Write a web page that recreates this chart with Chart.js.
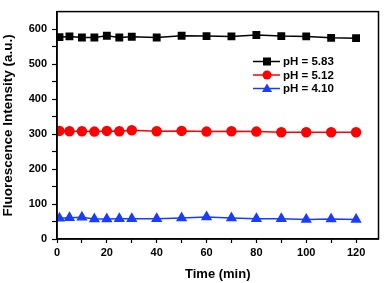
<!DOCTYPE html>
<html>
<head>
<meta charset="utf-8">
<script src="https://cdn.jsdelivr.net/npm/chart.js@4"></script>
<style>
  html, body { margin: 0; padding: 0; background: #fff; }
  #wrap { width: 385px; height: 283px; }
</style>
</head>
<body>
<div id="wrap"><canvas id="chart" width="385" height="283"></canvas></div>
<script>
const times = [1, 5, 10, 15, 20, 25, 30, 40, 50, 60, 70, 80, 90, 100, 110, 120];
const ph583 = [577, 579, 576, 576, 581, 576, 578, 576, 581, 580, 579, 583, 580, 579, 575, 574];
const ph512 = [309, 308, 308, 307, 309, 308, 311, 308, 309, 307, 308, 307, 305, 305, 305, 305];
const ph410 = [59, 61, 62, 57, 57, 58, 58, 58, 60, 63, 60, 58, 58, 56, 57, 56];
const seriesLabels = ["pH = 5.83", "pH = 5.12", "pH = 4.10"];
// major ticks carry labels, minor ones in between
const xTicks = [0, 10, 20, 30, 40, 50, 60, 70, 80, 90, 100, 110, 120];
const yTicks = [0, 50, 100, 150, 200, 250, 300, 350, 400, 450, 500, 550, 600];

const toPoints = (vals) => vals.map((v, i) => ({ x: times[i], y: v }));

const framePlugin = {
  id: "frame",
  afterDatasetsDraw(chart) {
    const { ctx, chartArea: a } = chart;
    ctx.save();
    ctx.strokeStyle = "#000";
    ctx.lineWidth = 1.5;
    ctx.strokeRect(a.left, a.top, a.right - a.left, a.bottom - a.top);
    ctx.restore();
  }
};

// legend drawn inside the plot, upper right
const legendPlugin = {
  id: "insideLegend",
  afterDraw(chart) {
    const { ctx } = chart;
    const x0 = 253, y0 = 61.5, rowH = 13.5;
    ctx.save();
    chart.data.datasets.forEach((ds, i) => {
      const y = y0 + i * rowH;
      ctx.strokeStyle = ds.borderColor;
      ctx.lineWidth = 1.5;
      ctx.beginPath();
      ctx.moveTo(x0, y);
      ctx.lineTo(x0 + 27, y);
      ctx.stroke();
      ctx.fillStyle = ds.backgroundColor;
      const cx = x0 + 14;
      if (ds.pointStyle === "rect") {
        ctx.fillRect(cx - 4, y - 4, 8, 8);
      } else if (ds.pointStyle === "circle") {
        ctx.beginPath();
        ctx.arc(cx, y, 4.5, 0, Math.PI * 2);
        ctx.fill();
      } else {
        ctx.beginPath();
        ctx.moveTo(cx, y - 5);
        ctx.lineTo(cx + 5, y + 3.5);
        ctx.lineTo(cx - 5, y + 3.5);
        ctx.closePath();
        ctx.fill();
      }
      ctx.fillStyle = "#000";
      ctx.font = "bold 11.5px 'Liberation Sans', Arial, sans-serif";
      ctx.textBaseline = "middle";
      ctx.fillText(ds.label, x0 + 30, y + 0.5);
    });
    ctx.restore();
  }
};

const ctx = document.getElementById("chart").getContext("2d");
new Chart(ctx, {
  type: "line",
  data: {
    datasets: [
      {
        label: seriesLabels[0],
        data: toPoints(ph583),
        borderColor: "#000000",
        backgroundColor: "#000000",
        pointStyle: "rect",
        pointRadius: 4.5,
        borderWidth: 1.5,
      },
      {
        label: seriesLabels[1],
        data: toPoints(ph512),
        borderColor: "#ff0000",
        backgroundColor: "#ff0000",
        pointStyle: "circle",
        pointRadius: 4.5,
        borderWidth: 1.5,
      },
      {
        label: seriesLabels[2],
        data: toPoints(ph410),
        borderColor: "#1a3cff",
        backgroundColor: "#1a3cff",
        pointStyle: "triangle",
        pointRadius: 5,
        borderWidth: 1.5,
      },
    ],
  },
  options: {
    responsive: false,
    animation: false,
    layout: { padding: { top: 3, right: 5, left: 0, bottom: 0 } },
    plugins: {
      legend: { display: false },
      tooltip: { enabled: false },
    },
    elements: { point: { borderWidth: 0 } },
    scales: {
      x: {
        type: "linear",
        min: 0,
        max: 129,
        afterBuildTicks: (scale) => {
          scale.ticks = xTicks.map((v) => ({ value: v }));
        },
        afterFit: (scale) => { scale.height = 44; },
        ticks: {
          autoSkip: false,
          maxRotation: 0,
          padding: 3,
          color: "#000",
          font: { family: "'Liberation Sans', Arial, sans-serif", size: 11, weight: "bold" },
          callback: (v) => (v % 20 === 0 ? v : ""),
        },
        grid: { drawOnChartArea: false, drawTicks: true, tickLength: 4, tickColor: "#000", tickWidth: 1.2 },
        border: { color: "#000", width: 1.5 },
        title: {
          display: true,
          text: "Time (min)",
          color: "#000",
          padding: { top: 4, bottom: 1 },
          font: { family: "'Liberation Sans', Arial, sans-serif", size: 13, weight: "bold" },
        },
      },
      y: {
        min: 0,
        max: 650,
        afterBuildTicks: (scale) => {
          scale.ticks = yTicks.map((v) => ({ value: v }));
        },
        afterFit: (scale) => { scale.width = 57; },
        ticks: {
          autoSkip: false,
          padding: 5,
          color: "#000",
          font: { family: "'Liberation Sans', Arial, sans-serif", size: 11, weight: "bold" },
          callback: (v) => (v % 100 === 0 ? v : ""),
        },
        grid: { drawOnChartArea: false, drawTicks: true, tickLength: 5, tickColor: "#000", tickWidth: 1.2 },
        border: { color: "#000", width: 1.5 },
        title: {
          display: true,
          text: "Fluorescence Intensity (a.u.)",
          color: "#000",
          padding: { top: 0, bottom: 0 },
          font: { family: "'Liberation Sans', Arial, sans-serif", size: 13.5, weight: "bold" },
        },
      },
    },
  },
  plugins: [framePlugin, legendPlugin],
});
</script>
</body>
</html>
